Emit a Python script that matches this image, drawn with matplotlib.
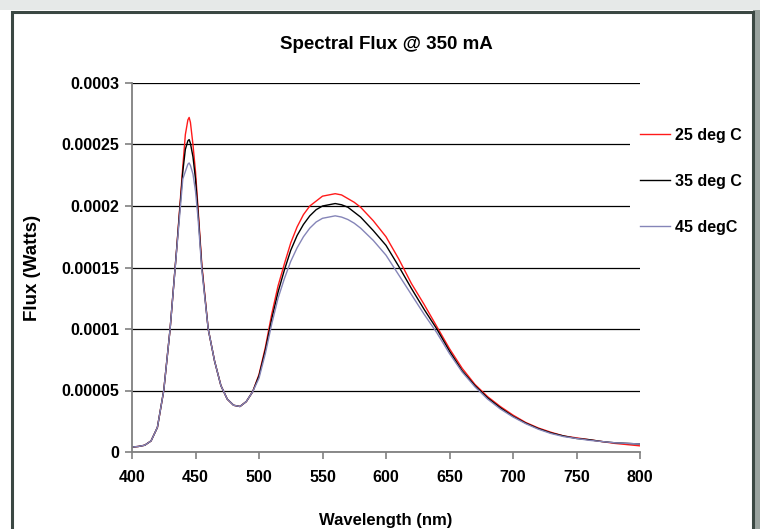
import matplotlib
matplotlib.use('Agg')
from matplotlib import pyplot as plt
from matplotlib.patches import Rectangle
import numpy as np

plt.rcParams['font.family'] = ['Liberation Sans', 'DejaVu Sans']
plt.rcParams['font.weight'] = 'bold'

# wavelength (nm) and flux, in microwatts
wavelength = [400, 405, 410, 415, 420, 425, 430, 435, 440, 442, 444, 445, 446, 448,
              450, 452, 455, 460, 465, 470, 475, 480, 485, 490, 495, 500, 505, 510,
              515, 520, 525, 530, 535, 540, 545, 550, 555, 560, 565, 570, 575, 580,
              590, 600, 610, 620, 630, 640, 650, 660, 670, 680, 690, 700, 710, 720,
              730, 740, 750, 760, 770, 780, 790, 800]

flux_25 = [4, 4.5, 5.5, 9, 20, 50, 100, 163, 232, 258, 270, 272, 268, 250,
           228, 198, 152, 100, 74, 54, 43, 38, 37, 41, 49, 63, 85, 112,
           135, 153, 170, 183, 193, 200, 204, 208, 209, 210, 209, 206, 203, 199,
           188, 175, 157, 137, 120, 102, 84, 68, 55, 45, 37, 30, 24, 19.5,
           16, 13, 11.5, 10, 8.5, 7, 6, 5]

flux_35 = [4, 4.5, 5.5, 9, 20, 50, 100, 163, 228, 246, 253, 254, 251, 240,
           222, 195, 150, 100, 74, 54, 43, 38, 37, 41, 49, 62, 83, 108,
           130, 148, 164, 176, 185, 192, 197, 200, 201, 202, 201, 199, 195, 191,
           180, 168, 151, 133, 116, 100, 82, 66, 54, 44, 36, 29, 23.5, 19,
           15.5, 13, 11, 10, 8.5, 7.5, 7, 6.5]

flux_45 = [4, 4.5, 5.5, 9, 20, 50, 100, 162, 222, 228, 234, 235, 233, 226,
           212, 190, 148, 100, 74, 54, 43, 38, 37, 41, 49, 60, 80, 104,
           125, 141, 155, 166, 175, 182, 187, 190, 191, 192, 191, 189, 186, 182,
           172, 160, 144, 128, 112, 97, 80, 65, 53, 43, 35, 28.5, 23, 18.5,
           15, 12.5, 11, 9.5, 8.5, 7.5, 7, 6.5]

labels = ['25 deg C', '35 deg C', '45 degC']
colors = ['#ff1a1a', '#000000', '#8585b8']

W, H = 760, 529
fig = plt.figure(figsize=(W / 100, H / 100), dpi=100)
fig.patch.set_facecolor('white')

# frame around the chart
fig.patches.append(Rectangle((753 / W, 0), 7 / W, 1, transform=fig.transFigure,
                             facecolor='#9aa39f', edgecolor='none', zorder=-3))
fig.patches.append(Rectangle((0, (H - 10) / H), 1, 10 / H, transform=fig.transFigure,
                             facecolor='#e6e9e8', edgecolor='none', zorder=-3))
fig.patches.append(Rectangle((12 / W, -0.02), 741 / W, (H - 12) / H + 0.02,
                             transform=fig.transFigure, facecolor='white',
                             edgecolor='#3b4843', linewidth=2.2, zorder=-2))

ax = fig.add_axes([132 / W, (H - 452) / H, 508 / W, 369 / H])
ax.set_facecolor('none')

wl = np.array(wavelength)
for series, lab, col in zip([flux_25, flux_35, flux_45], labels, colors):
    ax.plot(wl, np.array(series) * 1e-6, color=col, linewidth=1.0, label=lab)

ax.set_xlim(400, 800)
ax.set_ylim(0, 0.0003)
ax.set_xticks(np.arange(400, 801, 50))
yt = [0, 0.00005, 0.0001, 0.00015, 0.0002, 0.00025, 0.0003]
ax.set_yticks(yt)
ax.set_yticklabels(['0', '0.00005', '0.0001', '0.00015', '0.0002', '0.00025', '0.0003'])
ax.yaxis.grid(True, color='black', linewidth=0.9)
ax.set_axisbelow(True)

for s in ['top', 'right']:
    ax.spines[s].set_visible(False)
for s in ['left', 'bottom']:
    ax.spines[s].set_color('#808080')
    ax.spines[s].set_linewidth(1.3)
ax.tick_params(axis='both', colors='#808080', length=5, width=1.2, labelsize=11.5,
               labelcolor='black')
ax.tick_params(axis='x', pad=8)
ax.tick_params(axis='y', pad=4)

ax.set_title('Spectral Flux @ 350 mA', fontsize=13.5, fontweight='bold', pad=24.5)
ax.set_xlabel('Wavelength (nm)', fontsize=12, fontweight='bold', labelpad=20)
ax.set_ylabel('Flux (Watts)', fontsize=13.5, fontweight='bold', labelpad=15)

leg = ax.legend(loc='upper left', bbox_to_anchor=(630 / W, (H - 118) / H),
                bbox_transform=fig.transFigure, borderaxespad=0, borderpad=0.6,
                frameon=True, fancybox=False, edgecolor='none', facecolor='white',
                framealpha=1, handlelength=1.9, handletextpad=0.3,
                labelspacing=1.95, prop={'size': 11.5, 'weight': 'bold'})
for line in leg.get_lines():
    line.set_linewidth(1.0)

fig.savefig('out.png', dpi=100)
